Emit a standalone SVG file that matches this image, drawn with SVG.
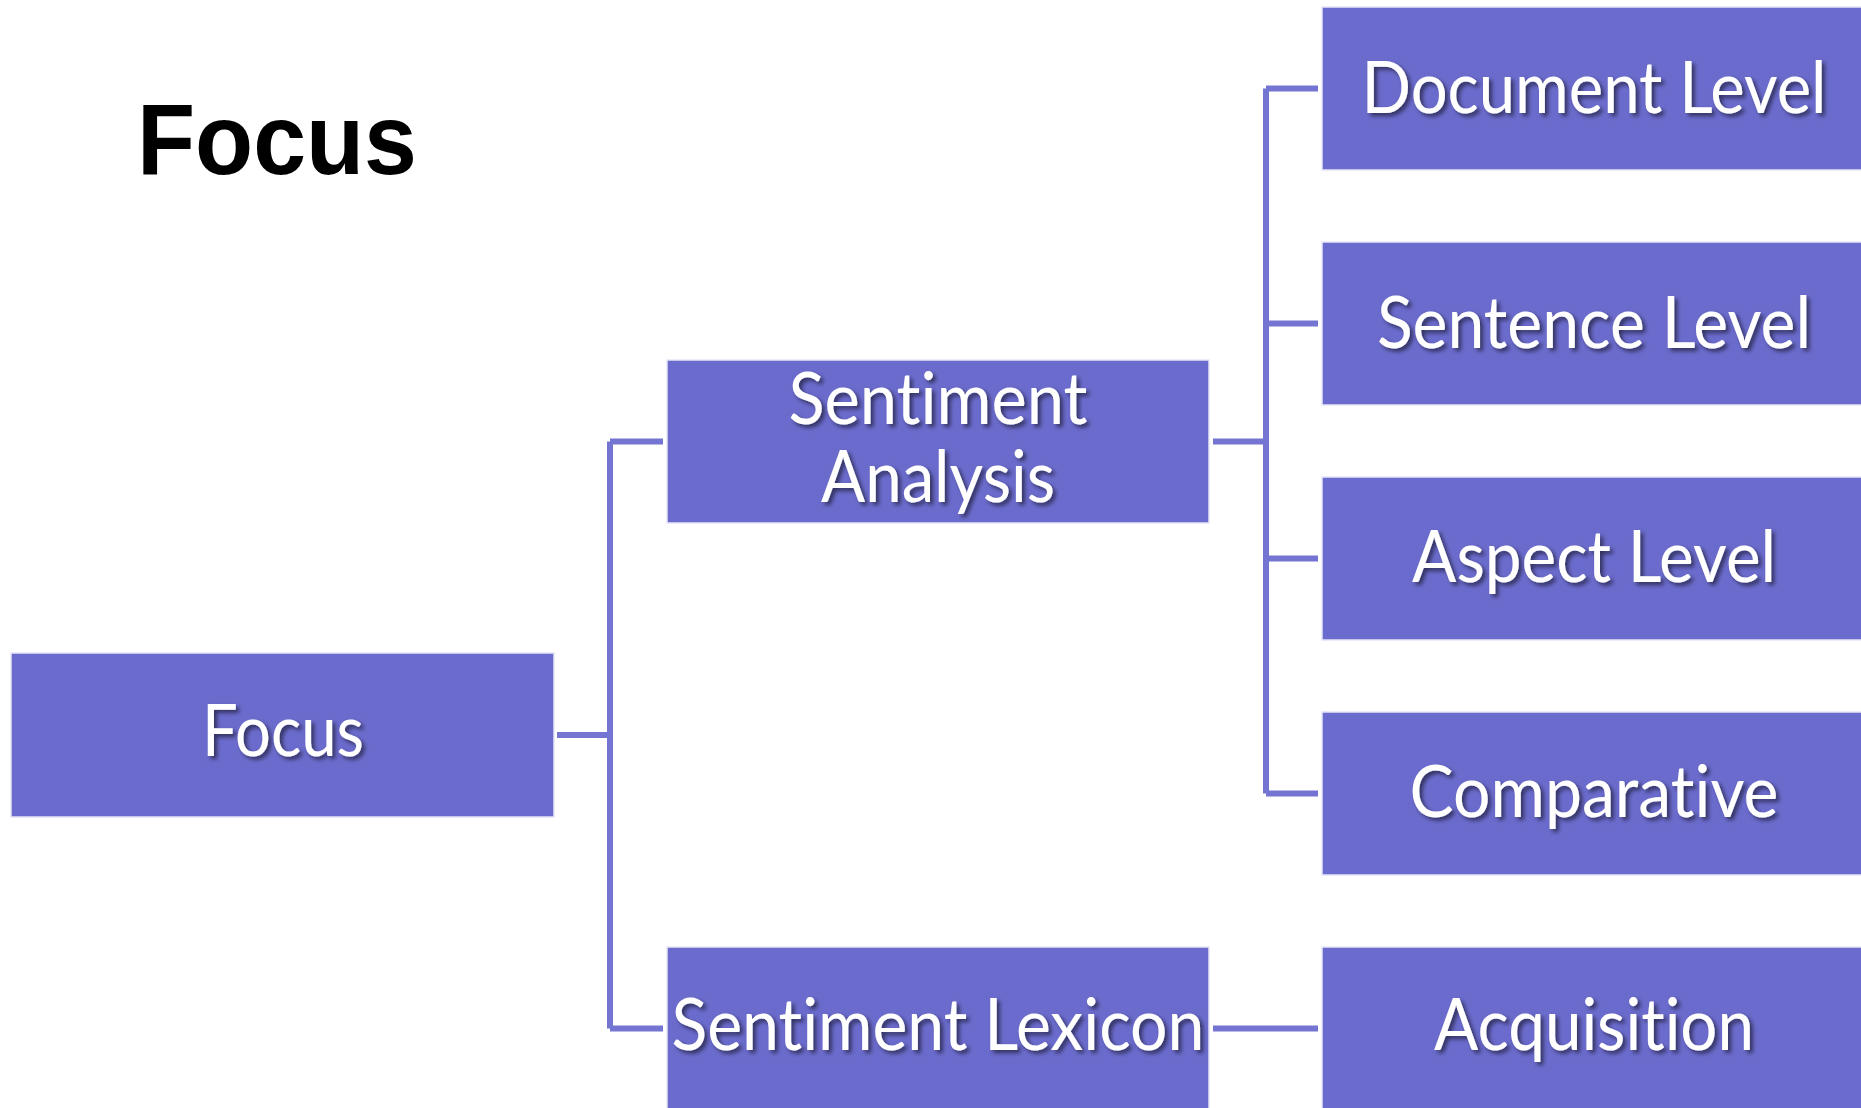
<svg xmlns="http://www.w3.org/2000/svg" width="1861" height="1108" viewBox="0 0 1861 1108">
  <defs>
    <filter id="shadow" x="-10%" y="-30%" width="120%" height="160%">
      <feDropShadow dx="3" dy="3" stdDeviation="2" flood-color="#000" flood-opacity="0.55"/>
    </filter>
  </defs>
  <style>
    .box { fill: #6B6BCD; stroke: #E6E6F6; stroke-width: 1.5; }
    .label { fill: #FFFFFF; font-family: Lato, "Open Sans", "Liberation Sans", sans-serif; font-size: 72px; text-anchor: middle; font-variant-ligatures: none; font-feature-settings: "liga" 0, "clig" 0, "dlig" 0; filter: url(#shadow); }
    .link { fill: none; stroke: #7474D2; stroke-width: 6; }
    .title { fill: #000; font-family: "Liberation Sans", Arial, sans-serif; font-weight: bold; font-size: 100px; }
  </style>
  <rect width="1861" height="1108" fill="#FFFFFF"/>

  <text class="title" x="137" y="174" textLength="280" lengthAdjust="spacingAndGlyphs">Focus</text>

  <g id="connectors">
    <path class="link" d="M557 735 H610 M610 441.5 V1028.5 M610 441.5 H663 M610 1028.5 H663"/>
    <path class="link" d="M1213 441.5 H1266 M1266 88.5 V793.5 M1266 88.5 H1318 M1266 323.5 H1318 M1266 558.5 H1318 M1266 793.5 H1318"/>
    <path class="link" d="M1213 1028.5 H1318"/>
  </g>

  <g id="node-focus">
    <rect class="box" x="11" y="653" width="543" height="164"/>
    <text class="label" x="283" y="756" textLength="162" lengthAdjust="spacingAndGlyphs">Focus</text>
  </g>
  <g id="node-sentiment-analysis">
    <rect class="box" x="667" y="360" width="542" height="163"/>
    <text class="label" x="938" y="424" textLength="299" lengthAdjust="spacingAndGlyphs">Sentiment</text>
    <text class="label" x="938" y="502" textLength="234" lengthAdjust="spacingAndGlyphs">Analysis</text>
  </g>
  <g id="node-sentiment-lexicon">
    <rect class="box" x="667" y="947" width="542" height="164"/>
    <text class="label" x="938" y="1050" textLength="533" lengthAdjust="spacingAndGlyphs">Sentiment Lexicon</text>
  </g>
  <g id="node-document-level">
    <rect class="box" x="1322" y="7" width="541" height="163"/>
    <text class="label" x="1594" y="113" textLength="465" lengthAdjust="spacingAndGlyphs">Document Level</text>
  </g>
  <g id="node-sentence-level">
    <rect class="box" x="1322" y="242" width="541" height="163"/>
    <text class="label" x="1594" y="348" textLength="434" lengthAdjust="spacingAndGlyphs">Sentence Level</text>
  </g>
  <g id="node-aspect-level">
    <rect class="box" x="1322" y="477" width="541" height="163"/>
    <text class="label" x="1594" y="582" textLength="364" lengthAdjust="spacingAndGlyphs">Aspect Level</text>
  </g>
  <g id="node-comparative">
    <rect class="box" x="1322" y="712" width="541" height="163"/>
    <text class="label" x="1594" y="817" textLength="369" lengthAdjust="spacingAndGlyphs">Comparative</text>
  </g>
  <g id="node-acquisition">
    <rect class="box" x="1322" y="947" width="541" height="164"/>
    <text class="label" x="1594" y="1050" textLength="320" lengthAdjust="spacingAndGlyphs">Acquisition</text>
  </g>
</svg>
